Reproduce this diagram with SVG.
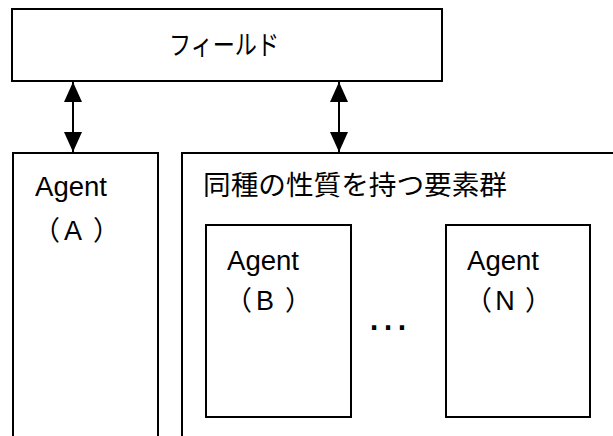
<svg xmlns="http://www.w3.org/2000/svg" width="613" height="436" viewBox="0 0 613 436">
<defs>
<style>
.box{fill:#fff;stroke:#000;stroke-width:2}
.en{font-family:"Liberation Sans",Arial,sans-serif;font-size:27px;fill:#000}
.jp{font-family:"Noto Sans CJK JP","Liberation Sans",sans-serif;font-size:27px;fill:#000}
.dots{font-family:"Liberation Sans",Arial,sans-serif;font-size:44px;fill:#000}
.con{stroke:#000;stroke-width:2;fill:none}
</style>
<marker id="ah" viewBox="0 0 20 18" refX="20" refY="9" markerWidth="20" markerHeight="18" markerUnits="userSpaceOnUse" orient="auto-start-reverse">
<path d="M0,0 L20,9 L0,18 Z" fill="#000"/>
</marker>
</defs>
<rect width="613" height="436" fill="#fff"/>
<g id="field">
<rect class="box" x="12" y="9" width="430" height="72"/>
<text class="jp" x="224" y="55" text-anchor="middle" textLength="110" lengthAdjust="spacingAndGlyphs" font-size="30">フィールド</text>
</g>
<g id="agentA">
<rect class="box" x="13" y="153" width="145" height="300"/>
<text class="en" x="35" y="196" textLength="72" lengthAdjust="spacingAndGlyphs">Agent</text>
<text class="jp" y="240"><tspan x="33">（</tspan><tspan class="en" x="73" text-anchor="middle">A</tspan><tspan x="93">）</tspan></text>
</g>
<g id="group">
<rect class="box" x="182" y="153" width="450" height="300"/>
<text class="jp" x="203" y="195" textLength="304" lengthAdjust="spacingAndGlyphs">同種の性質を持つ要素群</text>
</g>
<g id="agentB">
<rect class="box" x="206" y="225" width="145" height="192"/>
<text class="en" x="227" y="270" textLength="72" lengthAdjust="spacingAndGlyphs">Agent</text>
<text class="jp" y="310"><tspan x="225">（</tspan><tspan class="en" x="265" text-anchor="middle">B</tspan><tspan x="285">）</tspan></text>
</g>
<g id="ellipsis">
<text class="dots" x="366" y="330">…</text>
</g>
<g id="agentN">
<rect class="box" x="446" y="225" width="144" height="192"/>
<text class="en" x="467" y="270" textLength="72" lengthAdjust="spacingAndGlyphs">Agent</text>
<text class="jp" y="310"><tspan x="465">（</tspan><tspan class="en" x="505" text-anchor="middle">N</tspan><tspan x="525">）</tspan></text>
</g>
<g id="connectors">
<line class="con" x1="73" y1="82" x2="73" y2="152" marker-start="url(#ah)" marker-end="url(#ah)"/>
<line class="con" x1="339" y1="82" x2="339" y2="152" marker-start="url(#ah)" marker-end="url(#ah)"/>
</g>
</svg>
